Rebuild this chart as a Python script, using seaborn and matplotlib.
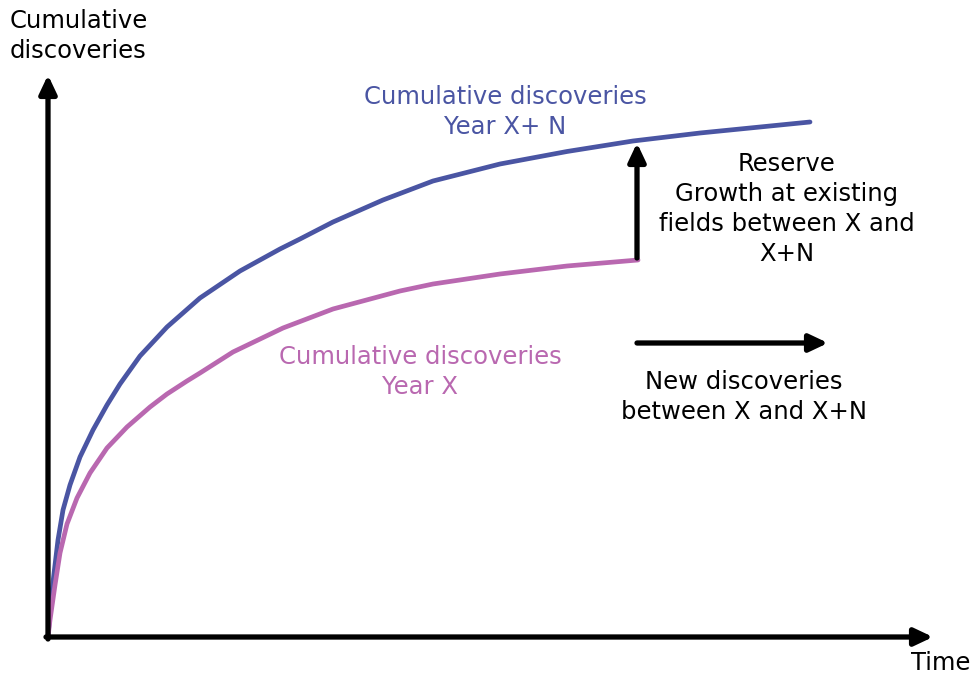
import numpy as np
import pandas as pd
import matplotlib
matplotlib.use("Agg")
import matplotlib.pyplot as plt
import seaborn as sns

# Curve values (time, cumulative discoveries)
time_later = [0, 2, 5, 10, 15, 22, 32, 45, 59, 72, 92, 119, 152, 192, 232, 252,
              285, 335, 385, 452, 519, 585, 652, 762]
disc_later = [0, 25, 55, 97, 127, 152, 180, 207, 232, 253, 281, 310, 339, 366, 388, 398,
              415, 437, 456, 473, 485.5, 496, 504, 515]

time_year_x = [0, 2, 7, 12, 19, 29, 42, 59, 79, 102, 119, 139, 152, 185, 235, 285,
               352, 385, 452, 519, 590]
disc_year_x = [0, 17, 52, 84, 113, 139, 164, 189, 210, 230, 243, 256, 264, 285, 309, 328,
               346, 353, 363, 371, 377]

blue = "#4a55a3"
pink = "#b968b0"

sns.set_style("white")
plt.rcParams["font.family"] = ["DejaVu Sans"]

fig = plt.figure(figsize=(9.75, 6.75), dpi=100)
ax = fig.add_axes([0, 0, 1, 1])

df_later = pd.DataFrame({"time": time_later, "disc": disc_later})
df_x = pd.DataFrame({"time": time_year_x, "disc": disc_year_x})
sns.lineplot(data=df_later, x="time", y="disc", sort=False, color=blue, lw=3.4,
             solid_joinstyle="round", ax=ax)
sns.lineplot(data=df_x, x="time", y="disc", sort=False, color=pink, lw=3.4,
             solid_joinstyle="round", ax=ax)

ax.set_xlim(-48, 927)
ax.set_ylim(-38, 637)
ax.set_axis_off()

arrow_kw = dict(arrowstyle="-|>,head_length=0.55,head_width=0.26", mutation_scale=20,
                color="black", lw=3.8, shrinkA=0, shrinkB=0)
# axes arrows
ax.annotate("", xy=(0, 562), xytext=(0, -2), arrowprops=arrow_kw)
ax.annotate("", xy=(885, 0), xytext=(-2, 0), arrowprops=arrow_kw)
# reserve growth arrow and new discoveries arrow
ax.annotate("", xy=(589, 494), xytext=(589, 379), arrowprops=arrow_kw)
ax.annotate("", xy=(780, 294), xytext=(589, 294), arrowprops=arrow_kw)

fs = 17.5
ls = 1.32
ax.text(-38, 628, "Cumulative\ndiscoveries", fontsize=fs, color="black",
        ha="left", va="top", linespacing=ls)
ax.text(922, -26, "Time", fontsize=fs, color="black", ha="right", va="center")
ax.text(457, 525, "Cumulative discoveries\nYear X+ N", fontsize=fs, color=blue,
        ha="center", va="center", linespacing=ls)
ax.text(372, 265, "Cumulative discoveries\nYear X", fontsize=fs, color=pink,
        ha="center", va="center", linespacing=ls)
ax.text(739, 428, "Reserve\nGrowth at existing\nfields between X and\nX+N", fontsize=fs,
        color="black", ha="center", va="center", linespacing=ls)
ax.text(696, 240, "New discoveries\nbetween X and X+N", fontsize=fs, color="black",
        ha="center", va="center", linespacing=ls)

fig.savefig("out.png", dpi=100)
